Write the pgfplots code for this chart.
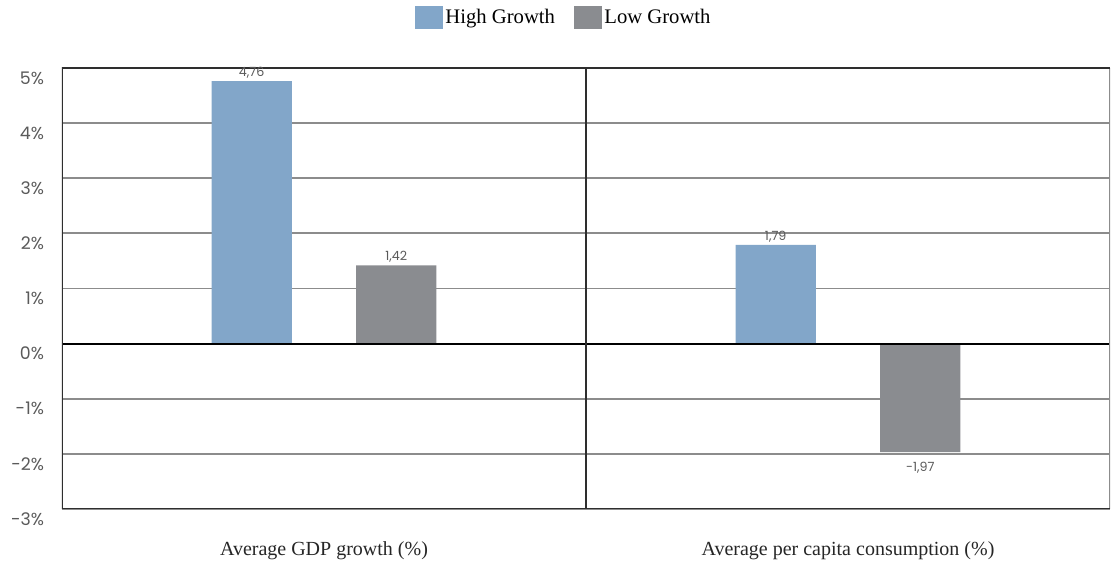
\documentclass[border=0pt]{standalone}
\usepackage{fontspec}
\setmainfont{Liberation Serif}
\newfontfamily\numfont{Poppins}
\usepackage{pgfplots}
\pgfplotsset{compat=1.18}

\definecolor{hiblue}{HTML}{82A6C9}
\definecolor{logray}{HTML}{8A8C90}
\definecolor{framec}{HTML}{2E2E2E}
\definecolor{gridc}{HTML}{8C8C8C}
\definecolor{lblc}{HTML}{5A5A5A}

\begin{document}
\begin{tikzpicture}
\begin{axis}[
  name=main,
  scale only axis,
  width=786pt, height=330.75pt,
  xmin=-0.5, xmax=1.5,
  ymin=-3, ymax=5,
  axis line style={draw=none},
  major tick length=0pt,
  xtick={0,1},
  xticklabels={Average GDP growth (\%), Average per capita consumption (\%)},
  xticklabel style={font=\fontsize{15}{17}\selectfont, text=black!85, yshift=-21pt},
  ytick={-3,-2,...,5},
  yticklabel={\pgfmathprintnumber[assume math mode=true]{\tick}\%},
  yticklabel style={font=\numfont\fontsize{13}{15}\selectfont, text=lblc,
    anchor=east, xshift=-10pt, yshift=-7.5pt},
  ymajorgrids,
  grid style={gridc, line width=1.3pt},
  ybar,
  bar width=0.153,
  nodes near coords={\pgfmathprintnumber[fixed,fixed zerofill,precision=2,use comma,assume math mode=true]{\pgfplotspointmeta}},
  nodes near coords style={font=\numfont\fontsize{9.5}{11}\selectfont, text=lblc, inner sep=2pt},
  coordinate style/.condition={y<0}{yshift=-5pt},
  legend style={at={(0.5,1)}, anchor=center, xshift=-16.5pt, yshift=38pt, draw=none, fill=none,
    legend columns=-1, font=\fontsize{15.5}{17}\selectfont,
    /tikz/every even column/.append style={column sep=12pt}},
  legend image code/.code={\fill[#1, draw=none] (0pt,-8.6pt) rectangle (21pt,8.6pt);},
]
\addplot[fill=hiblue, draw=none, bar shift=-0.138] coordinates {(0,4.76) (1,1.79)};
\addlegendentry{High Growth}
\addplot[fill=logray, draw=none, bar shift=0.138] coordinates {(0,1.42) (1,-1.97)};
\addlegendentry{Low Growth}

% zero line, group divider and frame
\draw[black, line width=1.6pt] (axis cs:-0.5,0) -- (axis cs:1.5,0);
\draw[framec, line width=1.6pt] (axis cs:0.5,-3) -- (axis cs:0.5,5);
\draw[gridc, line width=1pt] (axis cs:1.5,-3) -- (axis cs:1.5,5);
\draw[framec, line width=1.6pt] (axis cs:1.5,5) -- (axis cs:-0.5,5) -- (axis cs:-0.5,-3) -- (axis cs:1.5,-3);
\end{axis}
\pgfresetboundingbox
\path ([xshift=-46.5pt, yshift=-42.75pt]main.south west) rectangle ([xshift=6pt, yshift=51pt]main.north east);
\end{tikzpicture}
\end{document}
